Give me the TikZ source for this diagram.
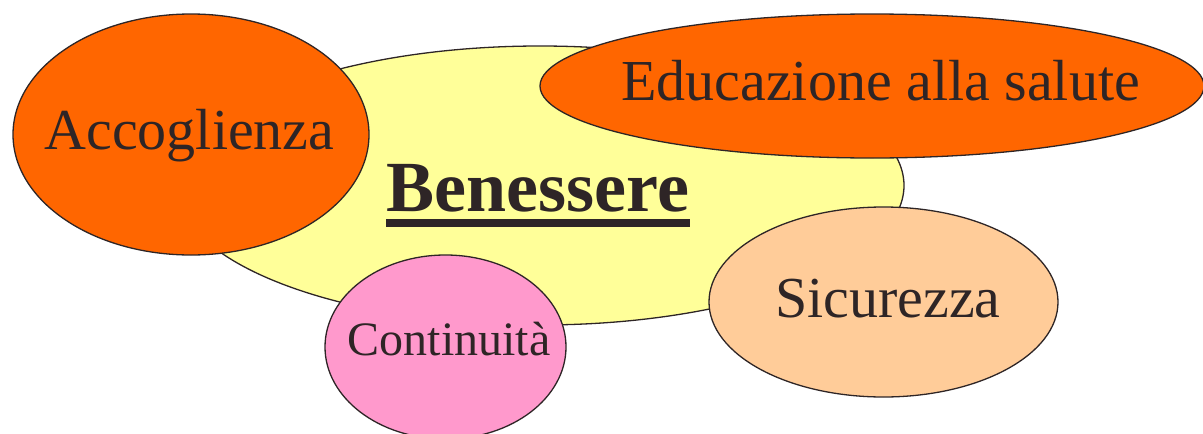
\documentclass[tikz,border=0pt]{standalone}
\usepackage{fontspec}
\setmainfont{Liberation Serif}
\definecolor{inkdark}{HTML}{2E2526}
\definecolor{benyellow}{HTML}{FFFF99}
\definecolor{hotorange}{HTML}{FF6600}
\definecolor{softpink}{HTML}{FF99CC}
\definecolor{peach}{HTML}{FFCC99}
\def \setBen{ (540,185.5) ellipse [x radius=364pt, y radius=139.5pt] }
\def \setAcc{ (191,134.5) ellipse [x radius=178pt, y radius=120.5pt] }
\def \setEdu{ (872,86) ellipse [x radius=332pt, y radius=72pt] }
\def \setSic{ (883.5,302) ellipse [x radius=174.5pt, y radius=95pt] }
\def \setCon{ (445.5,347) ellipse [x radius=120.5pt, y radius=92pt] }

\begin{document}
\begin{tikzpicture}[x=1pt,y=-1pt,line width=1.3pt,
    word/.style={text=inkdark,anchor=base,inner sep=0pt}]

    \useasboundingbox (0,0) rectangle (1203,434);
    \clip (0,0) rectangle (1203,434);

    \fill[benyellow] \setBen;
    \draw[inkdark] \setBen;
    \fill[hotorange] \setAcc;
    \draw[inkdark] \setAcc;
    \fill[hotorange] \setEdu;
    \draw[inkdark] \setEdu;
    \fill[peach] \setSic;
    \draw[inkdark] \setSic;
    \fill[softpink] \setCon;
    \draw[inkdark] \setCon;

    \node[word,font=\fontsize{72}{80}\selectfont\bfseries] (ben) at (538,211.5) {Benessere};
    \fill[inkdark] ([yshift=-7.5pt]ben.base west) rectangle ([yshift=-15pt]ben.base east);
    \node[word,font=\fontsize{58}{64}\selectfont] (acc) at (189.5,149) {Accoglienza};
    \node[word,font=\fontsize{58}{64}\selectfont] (edu) at (880.5,100) {Educazione alla salute};
    \node[word,font=\fontsize{58}{64}\selectfont] (sic) at (888,317) {Sicurezza};
    \node[word,font=\fontsize{48}{54}\selectfont] (con) at (449,355) {Continuità};

  \end{tikzpicture}
\end{document}
